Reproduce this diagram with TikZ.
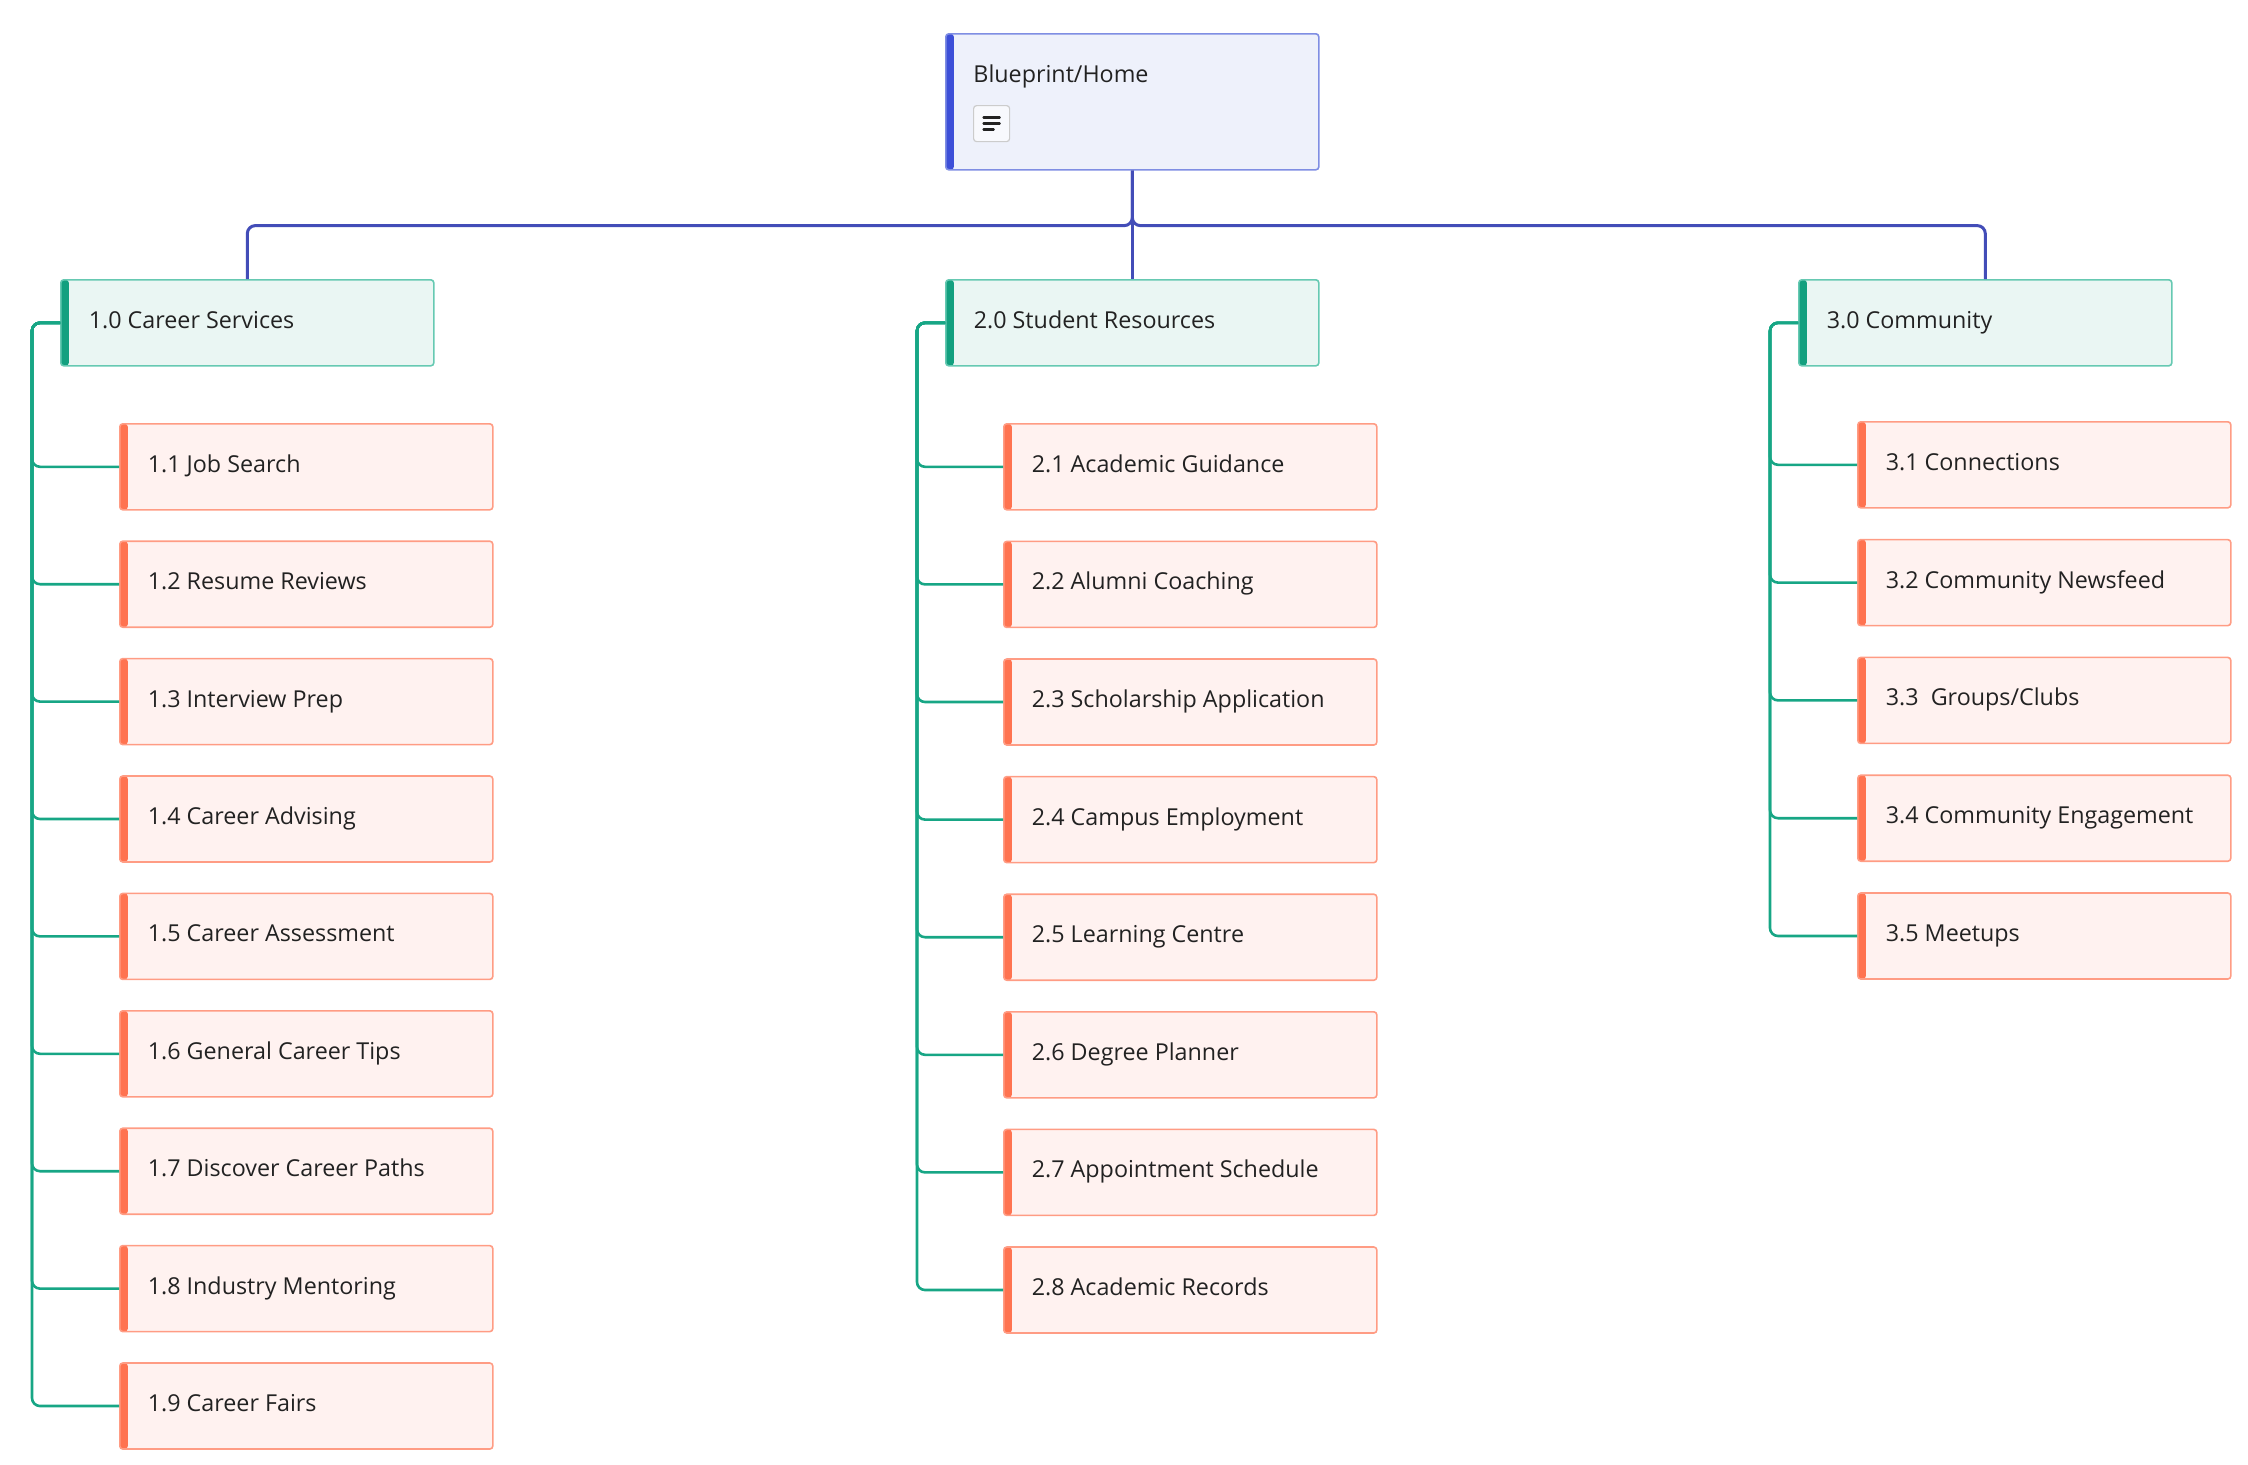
\documentclass[tikz,border=0pt]{standalone}
\usepackage{fontspec}
\setmainfont{Open Sans}
\definecolor{textc}{HTML}{222222}
\definecolor{topfill}{HTML}{EEF1FB}
\definecolor{topborder}{HTML}{7F8EE3}
\definecolor{topaccent}{HTML}{3D4FD8}
\definecolor{blueline}{HTML}{434DB8}
\definecolor{catfill}{HTML}{EAF6F3}
\definecolor{catborder}{HTML}{66C9B2}
\definecolor{cataccent}{HTML}{13A07F}
\definecolor{greenline}{HTML}{17A685}
\definecolor{leaffill}{HTML}{FFF2F0}
\definecolor{leafborder}{HTML}{FF9C84}
\definecolor{leafaccent}{HTML}{FF7350}
\newcommand{\lbl}[1]{\makebox[158.5pt][l]{#1}}
\begin{document}
\begin{tikzpicture}[x=0.5pt,y=-0.5pt,
  box/.style={rectangle, rounded corners=1.5pt, line width=0.8pt, minimum height=43pt,
    inner xsep=14pt, inner ysep=0pt, text height=8.5pt, text depth=3pt, anchor=north west,
    font=\fontsize{11.65}{14}\selectfont, text=textc},
  accentbar/.style={path picture={\fill[#1] (path picture bounding box.north west) rectangle ([xshift=4pt]path picture bounding box.south west);}},
  topbox/.style={box, minimum height=68pt, draw=topborder, fill=topfill, accentbar=topaccent},
  catbox/.style={box, draw=catborder, fill=catfill, accentbar=cataccent},
  leafbox/.style={box, draw=leafborder, fill=leaffill, accentbar=leafaccent},
  bline/.style={draw=blueline, line width=1.5pt, rounded corners=4pt},
  gline/.style={draw=greenline, line width=1.3pt, rounded corners=4pt},
  iconbox/.style={rectangle, rounded corners=1.5pt, draw=black!20, fill=white!60!topfill, line width=0.6pt, minimum size=18pt, inner sep=0pt, anchor=north west},
  iconline/.style={line width=1.3pt, line cap=round, textc}
]
\useasboundingbox (0,0) rectangle (2248,1464);

% root
\node[topbox] (home) at (945,33) {\lbl{}};
\node[anchor=base west, inner sep=0pt, font=\fontsize{11.65}{14}\selectfont, text=textc] (hometext) at (973,82) {Blueprint/Home};
\node[iconbox] (icon) at (973,105) {};
\draw[iconline] ([shift={(-8,-6)}]icon.center) -- ([shift={(8,-6)}]icon.center);
\draw[iconline] ([shift={(-8,0)}]icon.center) -- ([shift={(8,0)}]icon.center);
\draw[iconline] ([shift={(-8,6)}]icon.center) -- ([shift={(2,6)}]icon.center);

% categories
\node[catbox] (c1) at (60,279) {\lbl{1.0 Career Services}};
\node[catbox] (c2) at (945,279) {\lbl{2.0 Student Resources}};
\node[catbox] (c3) at (1798,279) {\lbl{3.0 Community}};

\draw[bline] (home.south) -- ++(0,55) -| (c1.north);
\draw[bline] (home.south) -- (c2.north);
\draw[bline] (home.south) -- ++(0,55) -| (c3.north);

% leaves 1
\foreach \i/\t in {1/{1.1 Job Search}, 2/{1.2 Resume Reviews}, 3/{1.3 Interview Prep}, 4/{1.4 Career Advising}, 5/{1.5 Career Assessment}, 6/{1.6 General Career Tips}, 7/{1.7 Discover Career Paths}, 8/{1.8 Industry Mentoring}, 9/{1.9 Career Fairs}}{
  \node[leafbox] (l1\i) at (119,{423+(\i-1)*117.4}) {\lbl{\t}};
  \draw[gline] (c1.west) -- ++(-28,0) |- (l1\i.west);
}
% leaves 2
\foreach \i/\t in {1/{2.1 Academic Guidance}, 2/{2.2 Alumni Coaching}, 3/{2.3 Scholarship Application}, 4/{2.4 Campus Employment}, 5/{2.5 Learning Centre}, 6/{2.6 Degree Planner}, 7/{2.7 Appointment Schedule}, 8/{2.8 Academic Records}}{
  \node[leafbox] (l2\i) at (1003,{423+(\i-1)*117.6}) {\lbl{\t}};
  \draw[gline] (c2.west) -- ++(-28,0) |- (l2\i.west);
}
% leaves 3
\foreach \i/\t in {1/{3.1 Connections}, 2/{3.2 Community Newsfeed}, 3/{3.3~ Groups/Clubs}, 4/{3.4 Community Engagement}, 5/{3.5 Meetups}}{
  \node[leafbox] (l3\i) at (1857,{421+(\i-1)*117.8}) {\lbl{\t}};
  \draw[gline] (c3.west) -- ++(-28,0) |- (l3\i.west);
}
\end{tikzpicture}
\end{document}
